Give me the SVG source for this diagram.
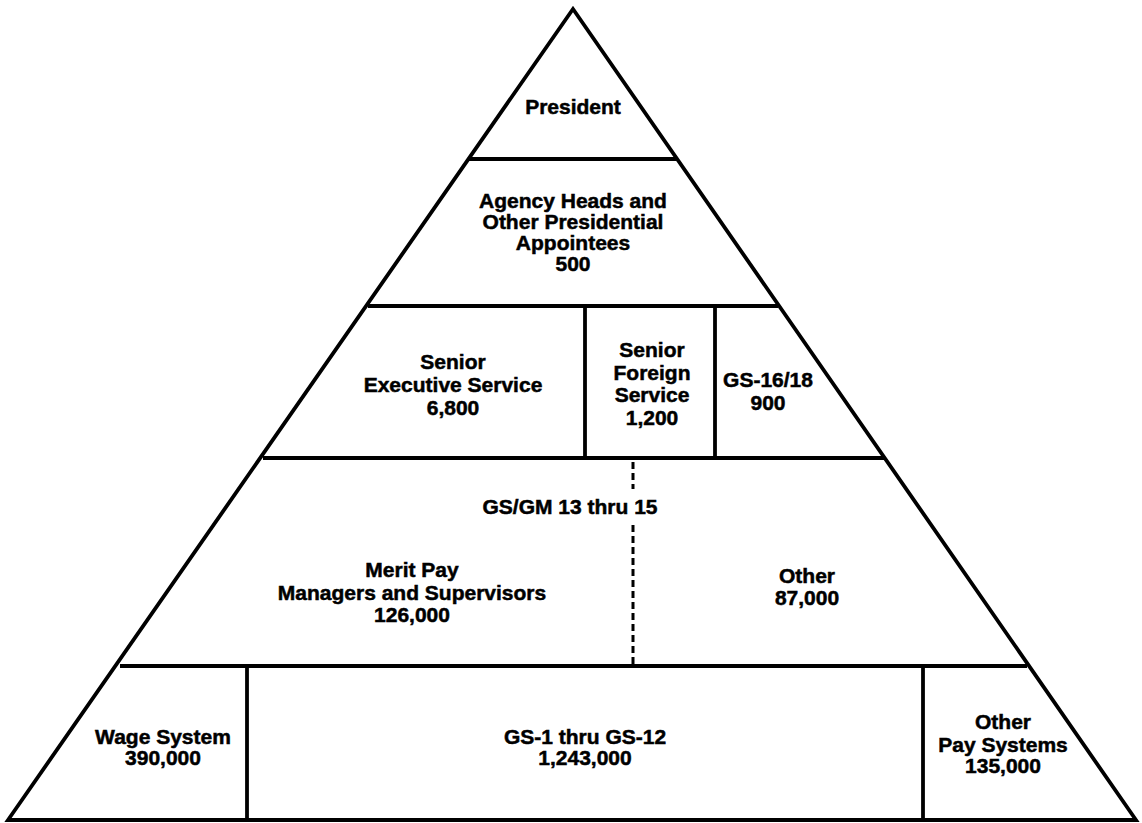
<svg xmlns="http://www.w3.org/2000/svg" width="1142" height="823" viewBox="0 0 1142 823">
<style>
.l{fill:none;stroke:#000;stroke-width:3.8;stroke-linejoin:miter}
.d{fill:none;stroke:#000;stroke-width:3;stroke-dasharray:7,4}
text{font-family:"Liberation Sans",Arial,sans-serif;font-weight:bold;font-size:21px;text-anchor:middle;fill:#000;stroke:#000;stroke-width:0.5}
</style>
<rect width="1142" height="823" fill="#fff"/>
<g id="connectors">
<polygon class="l" points="573,9 1136,820 8,820"/>
<line class="l" x1="469" y1="159" x2="677" y2="159"/>
<line class="l" x1="368" y1="306" x2="778" y2="306"/>
<line class="l" x1="263" y1="458" x2="884" y2="458"/>
<line class="l" x1="120" y1="666" x2="1027" y2="666"/>
<line class="l" x1="585" y1="306" x2="585" y2="458"/>
<line class="l" x1="715" y1="306" x2="715" y2="458"/>
<line class="l" x1="247" y1="666" x2="247" y2="820"/>
<line class="l" x1="923" y1="666" x2="923" y2="820"/>
<line class="d" x1="633" y1="462" x2="633" y2="489"/>
<line class="d" x1="633" y1="525" x2="633" y2="664"/>
</g>
<g id="president"><text x="573" y="114">President</text></g>
<g id="agency"><text x="573" y="208">Agency Heads and</text><text x="573" y="229">Other Presidential</text><text x="573" y="250">Appointees</text><text x="573" y="271">500</text></g>
<g id="ses"><text x="453" y="369">Senior</text><text x="453" y="392">Executive Service</text><text x="453" y="415">6,800</text></g>
<g id="sfs"><text x="652" y="357">Senior</text><text x="652" y="380">Foreign</text><text x="652" y="402">Service</text><text x="652" y="425">1,200</text></g>
<g id="gs16"><text x="768" y="387">GS-16/18</text><text x="768" y="410">900</text></g>
<g id="gsgm"><text x="570" y="514">GS/GM 13 thru 15</text></g>
<g id="merit"><text x="412" y="577">Merit Pay</text><text x="412" y="600">Managers and Supervisors</text><text x="412" y="622">126,000</text></g>
<g id="other"><text x="807" y="583">Other</text><text x="807" y="605">87,000</text></g>
<g id="wage"><text x="163" y="744">Wage System</text><text x="163" y="765">390,000</text></g>
<g id="gs1"><text x="585" y="744">GS-1 thru GS-12</text><text x="585" y="765">1,243,000</text></g>
<g id="otherpay"><text x="1003" y="729">Other</text><text x="1003" y="752">Pay Systems</text><text x="1003" y="773">135,000</text></g>
</svg>
